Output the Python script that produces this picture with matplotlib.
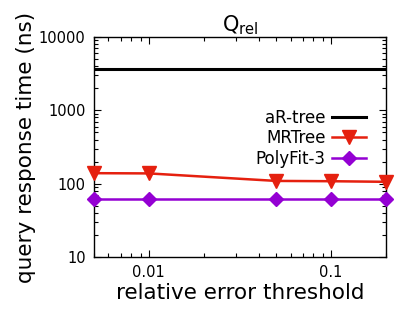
import matplotlib
matplotlib.use("Agg")
import matplotlib.pyplot as plt
from matplotlib.ticker import LogLocator, NullFormatter, FixedLocator, FixedFormatter

thresholds = [0.005, 0.01, 0.05, 0.1, 0.2]
artree = [3650, 3650, 3650, 3650, 3650]
mrtree = [139, 138, 109, 108, 106]
polyfit = [62, 62, 62, 62, 62]

x_ticks = [0.01, 0.1]
x_ticklabels = ["0.01", "0.1"]
y_ticks = [10, 100, 1000, 10000]
y_ticklabels = ["10", "100", "1000", "10000"]

plt.rcParams["font.family"] = "DejaVu Sans"

fig = plt.figure(figsize=(4.15, 3.23), dpi=100)
ax = fig.add_axes([94 / 415, 1 - 257 / 323, 292 / 415, 220 / 323])

ax.plot(thresholds, artree, color="black", lw=2.2, label="aR-tree")
ax.plot(thresholds, mrtree, color="#e5200f", lw=1.8, marker="v",
        markersize=10, label="MRTree", clip_on=False, zorder=3)
ax.plot(thresholds, polyfit, color="#9400d3", lw=1.8, marker="D",
        markersize=7.5, label="PolyFit-3", clip_on=False, zorder=3)

ax.set_xscale("log")
ax.set_yscale("log")
ax.set_xlim(0.005, 0.2)
ax.set_ylim(10, 10000)

ax.xaxis.set_major_locator(FixedLocator(x_ticks))
ax.xaxis.set_major_formatter(FixedFormatter(x_ticklabels))
ax.xaxis.set_minor_locator(LogLocator(base=10, subs=range(2, 10)))
ax.xaxis.set_minor_formatter(NullFormatter())
ax.yaxis.set_major_locator(FixedLocator(y_ticks))
ax.yaxis.set_major_formatter(FixedFormatter(y_ticklabels))
ax.yaxis.set_minor_locator(LogLocator(base=10, subs=range(2, 10)))
ax.yaxis.set_minor_formatter(NullFormatter())

ax.tick_params(which="both", direction="in", top=True, right=True,
               labelsize=10.5, width=0.8, colors="black")
ax.tick_params(which="major", length=5, pad=6)
ax.tick_params(which="minor", length=3)
for spine in ax.spines.values():
    spine.set_linewidth(1.0)

ax.set_xlabel("relative error threshold", fontsize=15.5, labelpad=2)
ax.set_ylabel("query response time (ns)", fontsize=15.5, labelpad=2)
ax.set_title(r"Q$_{\rm rel}$", fontsize=15, pad=3)

# markerfirst=False right-aligns the entries, like the gnuplot key
ax.legend(loc="upper right", bbox_to_anchor=(0.965, 0.72),
          frameon=False, markerfirst=False, fontsize=12,
          handlelength=2.0, handletextpad=0.4, labelspacing=0.15,
          borderpad=0.1)

fig.savefig("out.png", dpi=100)
